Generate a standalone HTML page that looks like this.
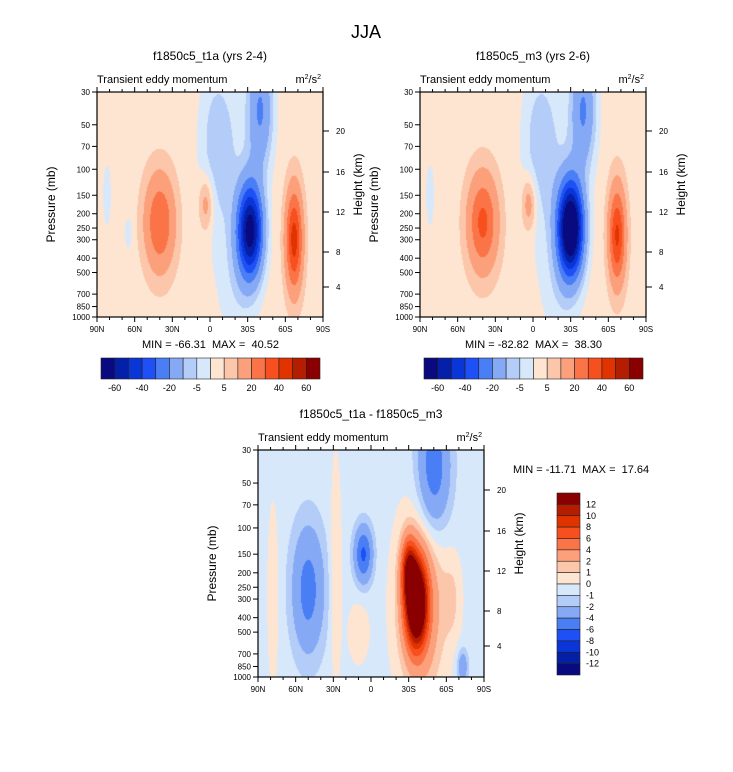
<!DOCTYPE html>
<html><head><meta charset="utf-8"><style>
body{margin:0;background:#fff;width:733px;height:772px;position:relative;overflow:hidden;font-family:"Liberation Sans",sans-serif}
canvas{position:absolute}
svg{position:absolute;left:0;top:0}
svg text{white-space:pre}
</style></head><body>
<canvas id="c1" width="226" height="225" style="left:97px;top:92px"></canvas>
<canvas id="c2" width="226" height="225" style="left:420px;top:92px"></canvas>
<canvas id="c3" width="226" height="227" style="left:258px;top:450px"></canvas>
<svg id="s" width="733" height="772"></svg>
<script>
// ---- data ----
const pressureTicks=[30,50,70,100,150,200,250,300,400,500,700,850,1000];
const latTicks=[90,60,30,0,-30,-60,-90];
const latLabels=["90N","60N","30N","0","30S","60S","90S"];
const heightTicks=[4,8,12,16,20];
const levelsA=[-60,-50,-40,-30,-20,-10,-5,0,5,10,20,30,40,50,60];
const levelsB=[-12,-10,-8,-6,-4,-2,-1,0,1,2,4,6,8,10,12];
const colors=["#0a0a80","#0520a8","#0a36d8","#1e50f5","#4a7ef5","#85a9f5","#b3ccf8","#d7e8fb","#fde5d2","#fcc6aa","#fba07a","#fa7448","#f84f1e","#e03300","#b51d00","#8a0000"];
// blob fields: lat, pressure, amplitude, lat width, log-p width
const base1=3;
const b1Lat=[40,3,-32,-67,-40,-10,65,82,-22,-3];
const b1P=[230,170,260,300,40,80,270,150,600,60];
const b1Amp=[27,13,-68,42,-24,-9,-7,-5,-6,-4];
const b1Wl=[8,4,7,4.5,7,12,2,3,11,8];
const b1Wz=[0.22,0.13,0.22,0.23,0.28,0.45,0.08,0.2,0.3,0.3];
const base2=3;
const b2Lat=[40,3,-30,-67,-40,-10,82,-22,-3];
const b2P=[230,170,250,280,40,80,150,600,60];
const b2Amp=[30,14,-85,39,-24,-9,-5,-6,-4];
const b2Wl=[8,4,7,4.5,7,12,3,11,8];
const b2Wz=[0.22,0.13,0.22,0.22,0.28,0.45,0.2,0.3,0.3];
const base3=-0.4;
const b3Lat=[-36,-30,-40,50,6,-50,28,78,-73,10,-65];
const b3P=[320,190,330,260,150,40,200,280,850,500,300];
const b3Amp=[18,9,4,-4.5,-6,-5,1.6,1.4,-3,1.2,1.2];
const b3Wl=[6,4,13,9,5,9,3,3,3,6,5];
const b3Wz=[0.2,0.14,0.42,0.3,0.13,0.3,0.5,0.4,0.08,0.15,0.2];
// ---- rendering ----
const LZ=Math.log10(1000/30);
function field(lat,p,base,L,P,A,W,Z){let v=base,z=Math.log10(p);for(let i=0;i<L.length;i++){const a=(lat-L[i])/W[i],b=(z-Math.log10(P[i]))/Z[i];v+=A[i]*Math.exp(-0.5*(a*a+b*b));}return v;}
function colorFor(v,lev){let k=0;while(k<lev.length&&v>=lev[k])k++;return colors[k];}
function drawField(id,base,L,P,A,W,Z,lev){const c=document.getElementById(id),ctx=c.getContext('2d');const w=c.width,h=c.height;
for(let y=0;y<h;y++){const p=30*Math.pow(10,(y+0.5)/h*LZ);for(let x=0;x<w;x++){const lat=90-(x+0.5)/w*180;ctx.fillStyle=colorFor(field(lat,p,base,L,P,A,W,Z),lev);ctx.fillRect(x,y,1,1);}}}
drawField('c1',base1,b1Lat,b1P,b1Amp,b1Wl,b1Wz,levelsA);
drawField('c2',base2,b2Lat,b2P,b2Amp,b2Wl,b2Wz,levelsA);
drawField('c3',base3,b3Lat,b3P,b3Amp,b3Wl,b3Wz,levelsB);
const S=document.getElementById('s'),NS='http://www.w3.org/2000/svg';
function el(t,a,txt){const e=document.createElementNS(NS,t);for(const k in a)e.setAttribute(k,a[k]);if(txt!==undefined)e.textContent=txt;S.appendChild(e);return e;}
const heightY=[287,252,212,172,131];
function axes(x0,y0,w,h,pre,title,hy){
 const xs=lat=>x0+(90-lat)/180*w, ys=p=>y0+Math.log10(p/30)/LZ*h;
 let r=el('rect',{x:x0,y:y0,width:w,height:h,fill:'none',stroke:'#000','stroke-width':1.2});
 
 pressureTicks.forEach(p=>{const y=ys(p);el('line',{x1:x0-5,x2:x0,y1:y,y2:y,stroke:'#000'});
  let t=el('text',{x:x0-7,y:y+3,'font-size':8,'text-anchor':'end'},String(p));});
 for(let lat=90;lat>=-90;lat-=10){const x=xs(lat),maj=lat%30===0;
  el('line',{x1:x,x2:x,y1:y0+h,y2:y0+h+(maj?5:3),stroke:'#000'});el('line',{x1:x,x2:x,y1:y0,y2:y0-(maj?5:3),stroke:'#000'});}
 latTicks.forEach((lat,i)=>{let t=el('text',{x:xs(lat),y:y0+h+15,'font-size':8,'text-anchor':'middle'},latLabels[i]);});
 heightTicks.forEach((k,i)=>{const y=hy[i];el('line',{x1:x0+w,x2:x0+w+6,y1:y,y2:y,stroke:'#000'});
  let t=el('text',{x:x0+w+13,y:y+3,'font-size':8},String(k));});
 let a=el('text',{transform:`translate(${x0-42},${y0+h/2}) rotate(-90)`,'font-size':12,'text-anchor':'middle'},'Pressure (mb)');
 let b=el('text',{transform:`translate(${x0+w+39},${y0+h/2-20}) rotate(-90)`,'font-size':12,'text-anchor':'middle'},'Height (km)');
 let c=el('text',{x:x0+w/2,y:y0-32,'font-size':12,'text-anchor':'middle'},title);
 let d=el('text',{x:x0,y:y0-9,'font-size':11},'Transient eddy momentum');
 let u=el('text',{x:x0+w-2,y:y0-9,'font-size':11,'text-anchor':'end'});u.innerHTML='m<tspan dy="-4" font-size="7">2</tspan><tspan dy="4">/s</tspan><tspan dy="-4" font-size="7">2</tspan>';
}
let j=el('text',{x:366,y:38,'font-size':18,'text-anchor':'middle'},'JJA');
axes(97,92,226,225,'plot-t1a','f1850c5_t1a (yrs 2-4)',heightY);
axes(420,92,226,225,'plot-m3','f1850c5_m3 (yrs 2-6)',heightY);
axes(258,450,226,227,'plot-diff','f1850c5_t1a - f1850c5_m3',heightY.map(y=>y+359));
function hbar(x0,pre,minmax){const y0=358,w=219,bw=w/16;
 colors.forEach((c,i)=>{let r=el('rect',{x:x0+i*bw,y:y0,width:bw,height:21,fill:c,stroke:'#222','stroke-width':0.6});});
 levelsA.forEach((v,i)=>{if(i%2)return;let t=el('text',{x:x0+(i+1)*bw,y:y0+33,'font-size':9,'text-anchor':'middle'},String(v));});
 let m=el('text',{x:x0+w/2,y:y0-10,'font-size':11,'text-anchor':'middle'},minmax);}
hbar(101,'plot-t1a','MIN = -66.31  MAX =  40.52');
hbar(424,'plot-m3','MIN = -82.82  MAX =  38.30');
{const x0=557,y0=493,bh=182/16;
 colors.slice().reverse().forEach((c,i)=>{let r=el('rect',{x:x0,y:y0+i*bh,width:23,height:bh,fill:c,stroke:'#222','stroke-width':0.6});});
 levelsB.slice().reverse().forEach((v,i)=>{let t=el('text',{x:x0+29,y:y0+(i+1)*bh+3,'font-size':9},String(v));});
 let m=el('text',{x:513,y:473,'font-size':11},'MIN = -11.71  MAX =  17.64');}
</script>
</body></html>
